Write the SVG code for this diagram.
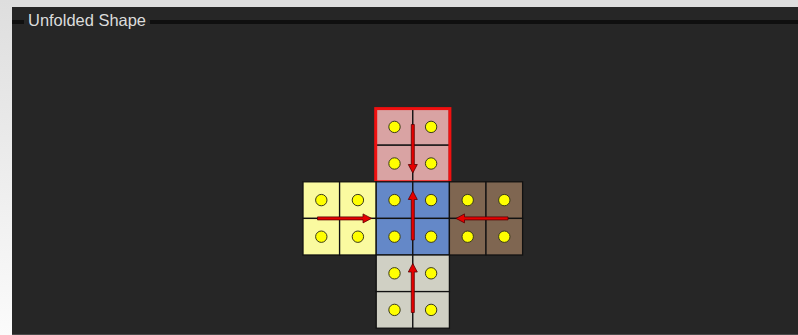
<svg xmlns="http://www.w3.org/2000/svg" width="798" height="335" viewBox="0 0 798 335">
  <defs>
    <linearGradient id="lg" x1="0" y1="0" x2="0" y2="1">
      <stop offset="0" stop-color="#dedede"/>
      <stop offset="1" stop-color="#fbfbfb"/>
    </linearGradient>
    <style>
      .cell { stroke: #111; stroke-width: 1.3; }
      .dot { fill: #ffff00; stroke: #3a3a1a; stroke-width: 1; }
      .arrow { fill: #e60000; stroke: #5a0000; stroke-width: 0.8; stroke-linejoin: miter; }
      .title { font-family: "Liberation Sans", Arial, sans-serif; font-size: 16.5px; fill: #dcdcdc; }
    </style>
  </defs>

  <!-- backdrop -->
  <rect x="0" y="0" width="798" height="335" fill="#dedede"/>
  <rect x="0" y="0" width="12" height="335" fill="url(#lg)"/>
  <rect x="12" y="7" width="786" height="328" fill="#262626"/>
  <rect x="12" y="334" width="786" height="1" fill="#4a4a4a"/>

  <!-- header -->
  <g id="header">
    <rect x="12" y="20" width="12" height="4" fill="#0f0f0f"/>
    <rect x="150" y="20" width="648" height="4" fill="#0f0f0f"/>
    <text class="title" x="28" y="26" textLength="118" lengthAdjust="spacingAndGlyphs">Unfolded Shape</text>
  </g>

  <!-- top face (highlighted) -->
  <g id="face-top">
    <rect class="cell" x="376.2" y="108.6" width="36.6" height="36.6" fill="#d9a3a3"/>
    <rect class="cell" x="412.8" y="108.6" width="36.6" height="36.6" fill="#d9a3a3"/>
    <rect class="cell" x="376.2" y="145.2" width="36.6" height="36.6" fill="#d9a3a3"/>
    <rect class="cell" x="412.8" y="145.2" width="36.6" height="36.6" fill="#d9a3a3"/>
    <rect x="375.7" y="108.6" width="74.2" height="73.2" fill="none" stroke="#f01010" stroke-width="3"/>
    <circle class="dot" cx="394.5" cy="126.9" r="5.7"/>
    <circle class="dot" cx="431.1" cy="126.9" r="5.7"/>
    <circle class="dot" cx="394.5" cy="163.5" r="5.7"/>
    <circle class="dot" cx="431.1" cy="163.5" r="5.7"/>
  </g>

  <!-- left face -->
  <g id="face-left">
    <rect class="cell" x="303" y="181.8" width="36.6" height="36.6" fill="#fafaa0"/>
    <rect class="cell" x="339.6" y="181.8" width="36.6" height="36.6" fill="#fafaa0"/>
    <rect class="cell" x="303" y="218.4" width="36.6" height="36.6" fill="#fafaa0"/>
    <rect class="cell" x="339.6" y="218.4" width="36.6" height="36.6" fill="#fafaa0"/>
    <circle class="dot" cx="321.3" cy="200.1" r="5.7"/>
    <circle class="dot" cx="357.9" cy="200.1" r="5.7"/>
    <circle class="dot" cx="321.3" cy="236.7" r="5.7"/>
    <circle class="dot" cx="357.9" cy="236.7" r="5.7"/>
  </g>

  <!-- center face -->
  <g id="face-center">
    <rect class="cell" x="376.2" y="181.8" width="36.6" height="36.6" fill="#6488c8"/>
    <rect class="cell" x="412.8" y="181.8" width="36.6" height="36.6" fill="#6488c8"/>
    <rect class="cell" x="376.2" y="218.4" width="36.6" height="36.6" fill="#6488c8"/>
    <rect class="cell" x="412.8" y="218.4" width="36.6" height="36.6" fill="#6488c8"/>
    <circle class="dot" cx="394.5" cy="200.1" r="5.7"/>
    <circle class="dot" cx="431.1" cy="200.1" r="5.7"/>
    <circle class="dot" cx="394.5" cy="236.7" r="5.7"/>
    <circle class="dot" cx="431.1" cy="236.7" r="5.7"/>
  </g>

  <!-- right face -->
  <g id="face-right">
    <rect class="cell" x="449.4" y="181.8" width="36.6" height="36.6" fill="#7f6651"/>
    <rect class="cell" x="486" y="181.8" width="36.6" height="36.6" fill="#7f6651"/>
    <rect class="cell" x="449.4" y="218.4" width="36.6" height="36.6" fill="#7f6651"/>
    <rect class="cell" x="486" y="218.4" width="36.6" height="36.6" fill="#7f6651"/>
    <circle class="dot" cx="467.7" cy="200.1" r="5.7"/>
    <circle class="dot" cx="504.3" cy="200.1" r="5.7"/>
    <circle class="dot" cx="467.7" cy="236.7" r="5.7"/>
    <circle class="dot" cx="504.3" cy="236.7" r="5.7"/>
  </g>

  <!-- bottom face -->
  <g id="face-bottom">
    <rect class="cell" x="376.2" y="255" width="36.6" height="36.6" fill="#d0d0c4"/>
    <rect class="cell" x="412.8" y="255" width="36.6" height="36.6" fill="#d0d0c4"/>
    <rect class="cell" x="376.2" y="291.6" width="36.6" height="36.6" fill="#d0d0c4"/>
    <rect class="cell" x="412.8" y="291.6" width="36.6" height="36.6" fill="#d0d0c4"/>
    <circle class="dot" cx="394.5" cy="273.3" r="5.7"/>
    <circle class="dot" cx="431.1" cy="273.3" r="5.7"/>
    <circle class="dot" cx="394.5" cy="309.9" r="5.7"/>
    <circle class="dot" cx="431.1" cy="309.9" r="5.7"/>
  </g>

  <!-- connectors (orientation arrows) -->
  <g id="connectors">
    <path class="arrow" d="M0,-1.5 H40 V-4.5 L48.5,0 L40,4.5 V1.5 H0 Z" transform="translate(412.8,124.5) rotate(90)"/>
    <path class="arrow" d="M0,-1.5 H40.5 V-4.5 L49,0 L40.5,4.5 V1.5 H0 Z" transform="translate(412.8,240) rotate(-90)"/>
    <path class="arrow" d="M0,-1.5 H40.5 V-4.5 L49,0 L40.5,4.5 V1.5 H0 Z" transform="translate(412.8,312.5) rotate(-90)"/>
    <path class="arrow" d="M0,-1.5 H45.5 V-4.5 L54,0 L45.5,4.5 V1.5 H0 Z" transform="translate(317.5,218.4)"/>
    <path class="arrow" d="M0,-1.5 H43.5 V-4.5 L52,0 L43.5,4.5 V1.5 H0 Z" transform="translate(508,218.4) rotate(180)"/>
  </g>
</svg>
